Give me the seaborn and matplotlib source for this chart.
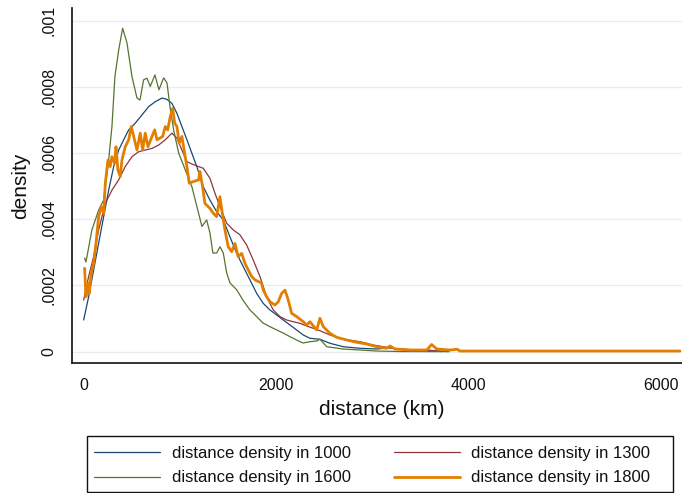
"""Kernel density of distance (km) for four years, Stata-like look."""

import matplotlib

matplotlib.use("Agg")
import matplotlib.pyplot as plt
from matplotlib.patches import Rectangle
import pandas as pd
import seaborn as sns

# --- data (km, density) ---
KM_1000 = [2, 54, 106, 158, 210, 262, 314, 366, 418, 470, 538, 608, 677, 746,
           816, 868, 919, 971, 1023, 1075, 1127, 1179, 1245, 1314, 1384, 1453,
           1522, 1592, 1660, 1730, 1800, 1868, 1938, 2007, 2076, 2146, 2215,
           2284, 2354, 2458, 2561, 2699, 2873, 3046, 3185, 3288, 3566, 3714]
DENS_1000 = [0.0000958, 0.000166, 0.000247, 0.000328, 0.000408, 0.000488,
             0.000559, 0.000609, 0.000640, 0.000670, 0.000690, 0.000715,
             0.000740, 0.000755, 0.000766, 0.000762, 0.000750, 0.000720,
             0.000680, 0.000640, 0.000599, 0.000558, 0.000498, 0.000458,
             0.000423, 0.000398, 0.000347, 0.000297, 0.000257, 0.000217,
             0.000176, 0.000146, 0.000126, 0.000111, 0.0000958, 0.0000807,
             0.0000656, 0.0000505, 0.0000405, 0.0000375, 0.0000254,
             0.0000151, 0.0000103, 0.0000082, 0.0000121, 0.0000073,
             0.0000051, 0.0000006]

KM_1300 = [2, 54, 106, 158, 227, 296, 366, 434, 504, 574, 642, 712, 781, 850,
           919, 971, 1023, 1075, 1127, 1197, 1245, 1314, 1366, 1418, 1488,
           1556, 1626, 1696, 1764, 1834, 1903, 1972, 2042, 2111, 2180, 2250,
           2319, 2388, 2458, 2561, 2699, 2873, 3011, 3150, 3288, 3496, 3787]
DENS_1300 = [0.000156, 0.000227, 0.000287, 0.000368, 0.000448, 0.000488,
             0.000519, 0.000559, 0.000589, 0.000604, 0.000609, 0.000614,
             0.000624, 0.000640, 0.000660, 0.000645, 0.000609, 0.000574,
             0.000567, 0.000559, 0.000554, 0.000524, 0.000479, 0.000438,
             0.000388, 0.000368, 0.000353, 0.000322, 0.000277, 0.000227,
             0.000166, 0.000126, 0.000106, 0.0000958, 0.0000906, 0.0000858,
             0.0000776, 0.0000707, 0.0000634, 0.0000505, 0.0000375,
             0.0000302, 0.0000202, 0.0000133, 0.0000073, 0.0000051,
             0.0000006]

KM_1600 = [12, 26, 88, 158, 210, 262, 296, 327, 366, 407, 452, 504, 556, 587,
           625, 660, 694, 743, 784, 833, 868, 899, 937, 989, 1058, 1127, 1179,
           1231, 1280, 1314, 1345, 1384, 1418, 1453, 1488, 1522, 1592, 1657,
           1730, 1800, 1865, 1938, 2007, 2073, 2146, 2215, 2281, 2354, 2423,
           2458, 2527, 2696, 2873, 3046, 3288, 3800]
DENS_1600 = [0.000283, 0.000271, 0.000368, 0.000428, 0.000458, 0.000579,
             0.000680, 0.000831, 0.000911, 0.000977, 0.000933, 0.000831,
             0.000766, 0.000760, 0.000821, 0.000826, 0.000801, 0.000836,
             0.000791, 0.000827, 0.000812, 0.000740, 0.000670, 0.000600,
             0.000549, 0.000498, 0.000438, 0.000378, 0.000398, 0.000359,
             0.000298, 0.000298, 0.000317, 0.000298, 0.000238, 0.000208,
             0.000187, 0.000156, 0.000126, 0.000106, 0.0000868, 0.0000755,
             0.0000658, 0.0000567, 0.0000453, 0.0000353, 0.0000263,
             0.0000302, 0.0000323, 0.0000375, 0.0000151, 0.0000082,
             0.0000051, 0.0000021, 0.0000005, 0.0000002]

KM_1800 = [12, 26, 47, 60, 81, 106, 130, 158, 185, 210, 227, 255, 278, 296,
           324, 338, 358, 382, 400, 434, 470, 497, 522, 556, 590, 615, 642,
           670, 712, 740, 764, 823, 850, 875, 902, 927, 948, 971, 995, 1023,
           1051, 1075, 1099, 1145, 1197, 1210, 1238, 1262, 1314, 1349, 1384,
           1418, 1453, 1470, 1504, 1540, 1574, 1608, 1644, 1678, 1712, 1748,
           1782, 1851, 1868, 1903, 1938, 1990, 2024, 2059, 2094, 2128, 2163,
           2215, 2284, 2319, 2353, 2423, 2457, 2492, 2561, 2631, 2735, 2839,
           2942, 3046, 3150, 3185, 3237, 3393, 3566, 3618, 3670, 3808, 3884,
           3912, 6198]
DENS_1800 = [0.000252, 0.000166, 0.000207, 0.000176, 0.000237, 0.000267,
             0.000327, 0.000408, 0.000438, 0.000418, 0.000509, 0.000579,
             0.000559, 0.000589, 0.000569, 0.000619, 0.000549, 0.000529,
             0.000579, 0.000619, 0.000640, 0.000680, 0.000650, 0.000609,
             0.000660, 0.000609, 0.000660, 0.000619, 0.000650, 0.000670,
             0.000640, 0.000650, 0.000680, 0.000670, 0.000710, 0.000735,
             0.000690, 0.000680, 0.000630, 0.000650, 0.000599, 0.000559,
             0.000509, 0.000514, 0.000519, 0.000544, 0.000498, 0.000448,
             0.000433, 0.000418, 0.000408, 0.000468, 0.000398, 0.000368,
             0.000317, 0.000302, 0.000327, 0.000287, 0.000297, 0.000267,
             0.000247, 0.000227, 0.000217, 0.000207, 0.000186, 0.000166,
             0.000151, 0.000141, 0.000151, 0.000176, 0.000186, 0.000156,
             0.000116, 0.000106, 0.0000906, 0.0000807, 0.0000906, 0.0000656,
             0.000101, 0.0000755, 0.0000556, 0.0000435, 0.0000353,
             0.0000284, 0.0000233, 0.0000151, 0.0000103, 0.0000172,
             0.0000082, 0.0000051, 0.0000051, 0.0000218, 0.0000082,
             0.0000051, 0.0000073, 0.0000021, 0.0000021]

SERIES_LABELS = ["distance density in 1000", "distance density in 1300",
                 "distance density in 1600", "distance density in 1800"]
X_TICKS = [0, 2000, 4000, 6000]
X_TICK_LABELS = ["0", "2000", "4000", "6000"]
Y_TICKS = [0, 0.0002, 0.0004, 0.0006, 0.0008, 0.001]
Y_TICK_LABELS = ["0", ".0002", ".0004", ".0006", ".0008", ".001"]

COLORS = ["#1a476f", "#90353b", "#55752f", "#e37e00"]
WIDTHS = [0.9, 0.9, 0.9, 2.0]
INK = "#111111"


def build_frame() -> pd.DataFrame:
    parts = []
    for label, km, dens in zip(
        SERIES_LABELS,
        [KM_1000, KM_1300, KM_1600, KM_1800],
        [DENS_1000, DENS_1300, DENS_1600, DENS_1800],
    ):
        parts.append(pd.DataFrame({"km": km, "density": dens, "series": label}))
    return pd.concat(parts, ignore_index=True)


def main() -> None:
    df = build_frame()

    fig = plt.figure(figsize=(6.82, 4.93), dpi=100)
    W, H = 682, 493
    ax = fig.add_axes([72 / W, 1 - 363 / H, 610 / W, 355 / H])

    for label, color, lw in zip(SERIES_LABELS, COLORS, WIDTHS):
        sub = df[df["series"] == label]
        sns.lineplot(data=sub, x="km", y="density", ax=ax, color=color,
                     linewidth=lw, estimator=None, label=label)

    ax.set_xlim(-119, 6219)
    ax.set_ylim(-0.0000341, 0.001038)
    ax.set_xticks(X_TICKS, X_TICK_LABELS)
    ax.set_yticks(Y_TICKS, Y_TICK_LABELS)
    for t in ax.get_yticklabels():
        t.set_rotation(90)
        t.set_va("center")

    ax.grid(False)
    for y in Y_TICKS:
        ax.axhline(y, color="#e6eef1", linewidth=1.0, zorder=0)

    for side in ["top", "right"]:
        ax.spines[side].set_visible(False)
    for side in ["left", "bottom"]:
        ax.spines[side].set_color(INK)
        ax.spines[side].set_linewidth(1.2)
    ax.tick_params(axis="both", direction="out", length=5, width=1.0,
                   color=INK, labelsize=11.5, labelcolor=INK, pad=6)

    ax.set_xlabel("distance (km)", fontsize=15, color=INK)
    ax.set_ylabel("density", fontsize=15, color=INK)
    ax.xaxis.label.set_va("center")
    ax.yaxis.label.set_va("center")
    ax.xaxis.set_label_coords(0.507, -0.132)
    ax.yaxis.set_label_coords(-0.084, 0.5)

    handles, labels = ax.get_legend_handles_labels()
    ax.get_legend().remove()
    order = [0, 2, 1, 3]
    leg = fig.legend(
        [handles[i] for i in order], [labels[i] for i in order],
        loc="upper left", bbox_to_anchor=(94 / W, 1 - 446 / H),
        ncol=2, fontsize=12, frameon=False,
        handlelength=3.95, handletextpad=0.7, borderaxespad=0,
        labelspacing=0.56, borderpad=0, columnspacing=2.6,
    )
    for t in leg.get_texts():
        t.set_color(INK)

    fig.patches.append(Rectangle((87 / W, 1 - 492 / H), 586 / W, 56 / H,
                                 transform=fig.transFigure, fill=False,
                                 edgecolor=INK, linewidth=1.0))

    fig.savefig("out.png", dpi=100)
    plt.close(fig)


if __name__ == "__main__":
    sns.set_theme(style="white")
    plt.rcParams["font.family"] = ["Liberation Sans", "DejaVu Sans"]
    main()
